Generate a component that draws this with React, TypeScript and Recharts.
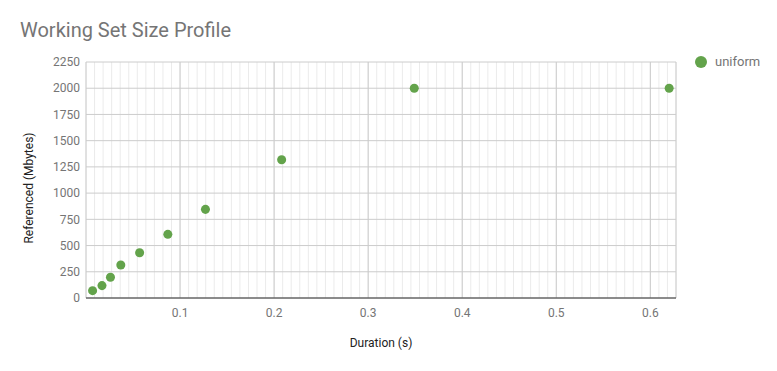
// Working set size profile: duration vs referenced memory, scatter with minor gridlines

import {
  CartesianGrid,
  Legend,
  Scatter,
  ScatterChart,
  XAxis,
  YAxis,
  ZAxis,
} from "recharts";

const durations = [0.007, 0.017, 0.026, 0.037, 0.057, 0.087, 0.127, 0.208, 0.349, 0.62];
const referenced = [70, 118, 198, 315, 432, 607, 845, 1318, 2000, 2000];

const xTicks = [0.1, 0.2, 0.3, 0.4, 0.5, 0.6];
const yTicks = [0, 250, 500, 750, 1000, 1250, 1500, 1750, 2000, 2250];

// minor gridlines: 11 steps per 0.1
const MINOR_STEP = 0.1 / 11;
const X_MAX = 0.6 + 3 * MINOR_STEP;
const minorTicks = Array.from({ length: 70 }, (_, i) => i * MINOR_STEP);

const GREEN = "#63a34b";
const GRAY = "#757575";

const data = durations.map((x, i) => ({ x, y: referenced[i] }));

function minorLines({ xAxis, offset }: any) {
  const scale = xAxis && xAxis.scale;
  if (typeof scale === "function") return minorTicks.map((t) => scale(t));
  if (scale && typeof scale.map === "function") return minorTicks.map((t) => scale.map(t));
  return minorTicks.map((t) => offset.left + (t / X_MAX) * offset.width);
}

function LegendContent() {
  return (
    <div style={{ display: "flex", alignItems: "center", fontSize: 13, color: GRAY }}>
      <svg width={14} height={14} style={{ marginRight: 7 }}>
        <circle cx={7} cy={7} r={6} fill={GREEN} />
      </svg>
      <span>uniform</span>
    </div>
  );
}

function YTitle(props: any) {
  const vb = props.viewBox || { x: 0, y: 62, width: 86, height: 236 };
  const cx = 29;
  const cy = vb.y + vb.height / 2 + 8;
  return (
    <text
      x={cx}
      y={cy}
      transform={`rotate(-90, ${cx}, ${cy})`}
      textAnchor="middle"
      dominantBaseline="central"
      fill="#222"
      fontSize={12}
    >
      Referenced (Mbytes)
    </text>
  );
}

export default function App() {
  return (
    <div
      style={{
        position: "relative",
        margin: -8,
        width: 777,
        height: 371,
        background: "#fff",
        fontFamily: "Roboto, sans-serif",
      }}
    >
      <div
        style={{
          position: "absolute",
          left: 20,
          top: 18,
          fontSize: 20,
          color: GRAY,
          lineHeight: "24px",
        }}
      >
        Working Set Size Profile
      </div>
      <ScatterChart
        width={777}
        height={371}
        margin={{ top: 62, right: 101, bottom: 43, left: 0 }}
      >
        <CartesianGrid
          horizontal={false}
          stroke="#ebebeb"
          verticalCoordinatesGenerator={minorLines}
        />
        <CartesianGrid stroke="#cccccc" />
        <XAxis
          type="number"
          dataKey="x"
          domain={[0, X_MAX]}
          ticks={xTicks}
          height={30}
          axisLine={{ stroke: "#333333" }}
          tickLine={false}
          tick={{ fill: GRAY, fontSize: 12 }}
          tickMargin={4}
          tickFormatter={(v: number) => String(v)}
          label={{
            value: "Duration (s)",
            position: "bottom",
            offset: 10,
            style: { fill: "#222", fontSize: 12 },
          }}
        />
        <YAxis
          type="number"
          dataKey="y"
          domain={[0, 2250]}
          ticks={yTicks}
          width={86}
          axisLine={false}
          tickLine={false}
          tickSize={4}
          tick={{ fill: GRAY, fontSize: 12 }}
          label={<YTitle />}
        />
        <ZAxis range={[48, 48]} />
        <Legend
          layout="vertical"
          align="center"
          verticalAlign="middle"
          content={LegendContent}
          wrapperStyle={{ left: 694, top: 54, width: 80, height: 18 }}
        />
        <Scatter
          name="uniform"
          data={data}
          fill={GREEN}
          shape="circle"
          isAnimationActive={false}
        />
      </ScatterChart>
    </div>
  );
}
